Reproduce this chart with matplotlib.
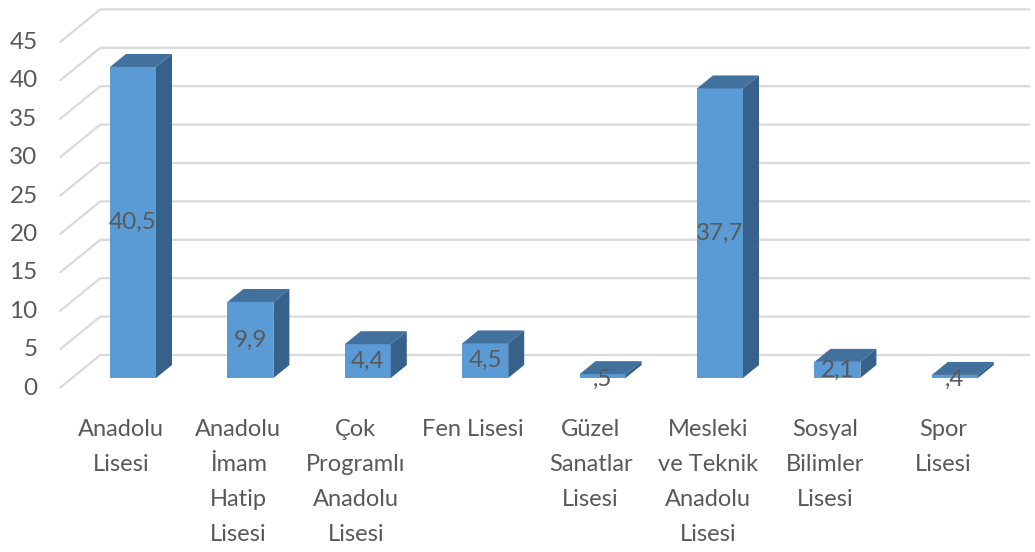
import matplotlib
matplotlib.use("Agg")
import matplotlib.pyplot as plt
from matplotlib.patches import Polygon, Rectangle

categories = ["Anadolu\nLisesi", "Anadolu\nİmam\nHatip\nLisesi", "Çok\nProgramlı\nAnadolu\nLisesi",
              "Fen Lisesi", "Güzel\nSanatlar\nLisesi", "Mesleki\nve Teknik\nAnadolu\nLisesi",
              "Sosyal\nBilimler\nLisesi", "Spor\nLisesi"]
values = [40.5, 9.9, 4.4, 4.5, 0.5, 37.7, 2.1, 0.4]
yticks = [0, 5, 10, 15, 20, 25, 30, 35, 40, 45]

plt.rcParams['font.family'] = ['Lato', 'DejaVu Sans']
text_col = '#595959'
front_col = '#5B9BD5'
top_col = '#42719E'
side_col = '#36618A'
grid_col = '#D9D9D9'

fig = plt.figure(figsize=(10.35, 5.52), dpi=100)
ax = fig.add_axes([0, 0, 1, 1])
# one category = 117.4 px, one unit = 7.68 px
ax.set_xlim(-133 / 117.4, (1035 - 133) / 117.4)
ax.set_ylim((378 - 552) / 7.68, 378 / 7.68)
ax.axis('off')

# 3D depth step (per unit of bar depth)
ddx = 16 / 117.4
ddy = 13 / 7.68
floor_front = -0.77
wall = 1.77
x_left = (72 - 133) / 117.4
x_right = (1002 - 133) / 117.4
w = 46 / 117.4

for t in yticks:
    xa, ya = x_left + ddx * floor_front, t + ddy * floor_front
    xb, yb = x_left + ddx * wall, t + ddy * wall
    xc = x_right + ddx * wall
    ax.plot([xa, xb, xc], [ya, yb, yb], color=grid_col, lw=1.6, zorder=1,
            solid_capstyle='butt')
    ax.text(xa - 22 / 117.4, ya, str(t), ha='right', va='center',
            fontsize=17.5, color=text_col)

for i, v in enumerate(values):
    x0, x1 = i - w / 2, i + w / 2
    ax.add_patch(Rectangle((x0, 0), w, v, facecolor=front_col, edgecolor='none', zorder=3))
    ax.add_patch(Polygon([(x0, v), (x0 + ddx, v + ddy), (x1 + ddx, v + ddy), (x1, v)],
                         closed=True, facecolor=top_col, edgecolor='none', zorder=3))
    ax.add_patch(Polygon([(x1, 0), (x1 + ddx, ddy), (x1 + ddx, v + ddy), (x1, v)],
                         closed=True, facecolor=side_col, edgecolor='none', zorder=3))
    lab = f"{v:.1f}".replace('.', ',')
    if lab.startswith('0'):
        lab = lab[1:]
    ax.text(i, v / 2 - (0.4 if v < 1 else 0), lab, ha='center', va='center',
            fontsize=17.5, color=text_col, zorder=4)
    ax.text(i - 12 / 117.4, (378 - 419) / 7.68, categories[i], ha='center', va='top',
            fontsize=17, color=text_col, linespacing=1.82)

fig.savefig('out.png', dpi=100)
